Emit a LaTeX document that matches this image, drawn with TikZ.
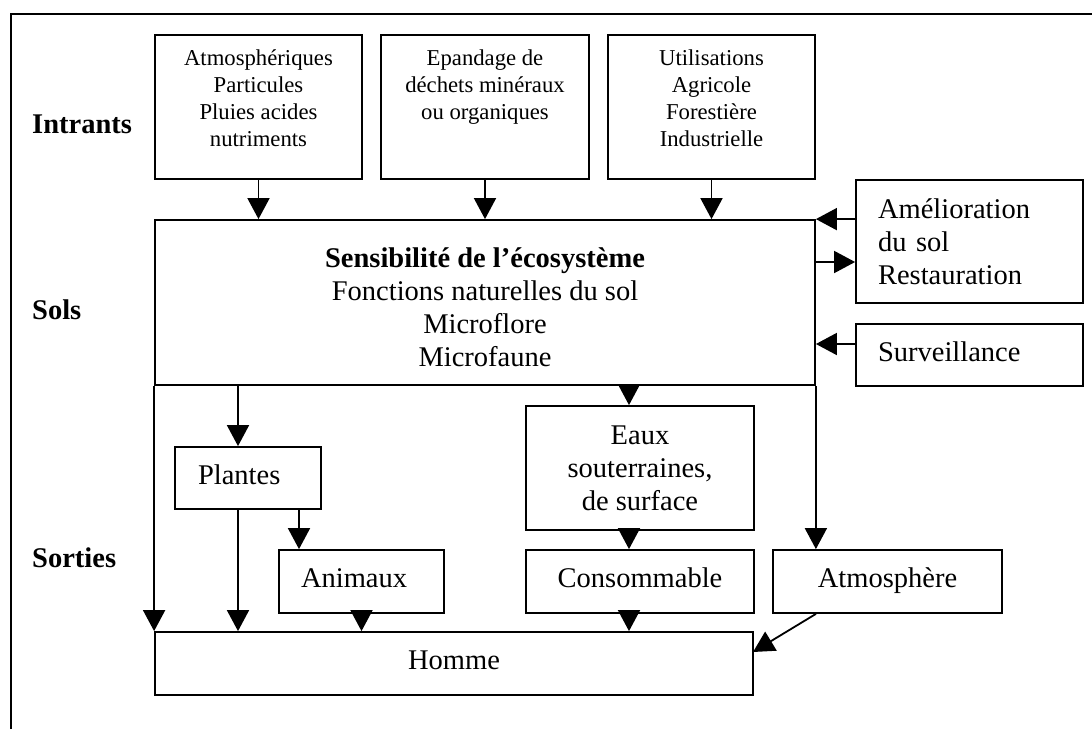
\documentclass[tikz,border=0pt]{standalone}
\usepackage{fontspec}
\setmainfont{Liberation Serif}
\usetikzlibrary{arrows.meta}
\begin{document}
\begin{tikzpicture}[x=1pt,y=-1pt,
  every node/.style={inner sep=0pt},
  box/.style={draw, line width=1.8pt, rectangle, align=center, font=\fontsize{28.5}{33}\selectfont},
  smallbox/.style={box, font=\fontsize{22.7}{27}\selectfont},
  one/.style={text depth=7pt},
  lab/.style={anchor=base west, font=\fontsize{28.5}{33}\selectfont\bfseries},
  arr/.style={line width=1.8pt, -{Triangle[width=22pt,length=21pt]}},
  ln/.style={line width=1.8pt}]
\useasboundingbox (0,0) rectangle (1092,729);
% frame (open at right and bottom)
\coordinate (fbl) at (11,729);
\coordinate (ftl) at (11,14);
\coordinate (ftr) at (1092,14);
\draw[ln] (fbl) -- (ftl) -- (ftr);

% row labels
\node[lab] (lint) at (32,133) {Intrants};
\node[lab] (lsol) at (32,319) {Sols};
\node[lab] (lsor) at (32,567) {Sorties};

% inputs
\node[smallbox, minimum width=207pt, minimum height=144pt] (t1) at (258.5,107)
  {Atmosphériques\\Particules\\Pluies acides\\nutriments\rule[-18pt]{0pt}{18pt}};
\node[smallbox, minimum width=208pt, minimum height=144pt] (t2) at (485,107)
  {Epandage de\\déchets minéraux\\ou organiques\hspace*{34pt}\\\rule[-18pt]{0pt}{18pt}};
\node[smallbox, minimum width=207pt, minimum height=144pt] (t3) at (711.5,107)
  {Utilisations\\Agricole\\Forestière\\Industrielle\rule[-18pt]{0pt}{18pt}};

% main box
\node[box, minimum width=660pt, minimum height=165pt] (main) at (485,302.5)
  {\rule{0pt}{29pt}\textbf{Sensibilité de l’écosystème}\\Fonctions naturelles du sol\\Microflore\\Microfaune};

% right boxes
\node[box, align=left, text width=183pt, inner xsep=22pt, minimum height=123pt] (amel) at (969.5,241.5)
  {Amélioration\\du sol\\Restauration};
\node[box, one, align=left, text width=183pt, inner xsep=22pt, minimum height=62pt] (surv) at (969.5,355)
  {Surveillance};

% outputs
\node[box, one, align=left, text width=100pt, inner xsep=23pt, minimum height=62pt] (plan) at (248,478) {Plantes};
\node[box, one, align=left, text width=121pt, inner xsep=22pt, minimum height=63pt] (anim) at (361.5,581.5) {Animaux};
\node[box, minimum width=228pt, minimum height=124pt] (eaux) at (640,468) {Eaux\\souterraines,\\de surface};
\node[box, one, minimum width=228pt, minimum height=63pt] (cons) at (640,581.5) {Consommable};
\node[box, one, minimum width=229pt, minimum height=63pt] (atmo) at (887.5,581.5) {Atmosphère};
\node[box, one, minimum width=598pt, minimum height=63pt] (homme) at (454,663.5) {Homme};

% helper coordinates
\coordinate (x238) at (238,0);
\coordinate (x299) at (299,0);
\coordinate (x629) at (629,0);
\coordinate (y262) at (0,262);
\coordinate (y344) at (0,344);
\coordinate (hin) at (753,652);

% input arrows
\draw[arr] (t1.south) -- (t1.south |- main.north);
\draw[arr] (t2.south) -- (t2.south |- main.north);
\draw[arr] (t3.south) -- (t3.south |- main.north);

% side arrows
\draw[arr] (amel.west |- main.north) -- (main.north east);
\draw[arr] (main.east |- y262) -- (amel.west |- y262);
\draw[arr] (surv.west |- y344) -- (main.east |- y344);

% outputs arrows
\draw[arr] (main.south west) -- (homme.north west);
\draw[arr] (main.south -| x238) -- (plan.north -| x238);
\draw[arr] (plan.south -| x238) -- (homme.north -| x238);
\draw[arr] (plan.south -| x299) -- (anim.north -| x299);
\draw[arr] (anim.south) -- (anim.south |- homme.north);
\draw[arr] (main.south -| x629) -- (eaux.north -| x629);
\draw[arr] (eaux.south -| x629) -- (cons.north -| x629);
\draw[arr] (cons.south -| x629) -- (homme.north -| x629);
\draw[arr] (main.south east) -- (main.south east |- atmo.north);
\draw[arr] (main.south east |- atmo.south) -- (hin);
\end{tikzpicture}
\end{document}
